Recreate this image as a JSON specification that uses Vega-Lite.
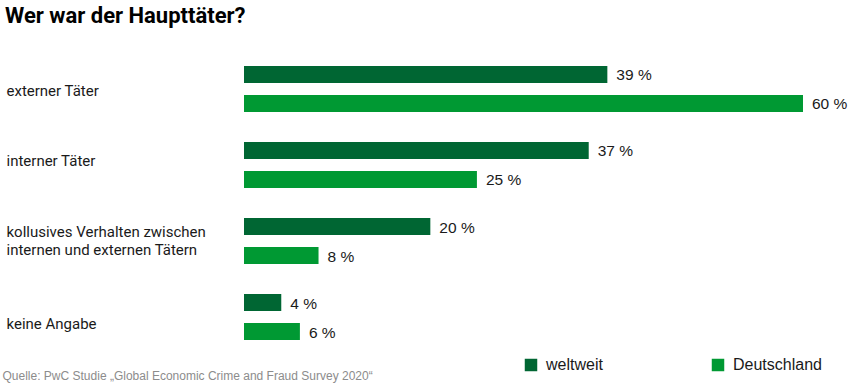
{
  "$schema": "https://vega.github.io/schema/vega-lite/v6.json",
  "autosize": {"type": "none"},
  "width": 559,
  "height": 304,
  "padding": {"left": 244, "top": 51, "right": 52, "bottom": 29},
  "background": "white",
  "title": {
    "text": "Wer war der Haupttäter?",
    "anchor": "start",
    "frame": "group",
    "dx": -239,
    "font": "Roboto",
    "fontSize": 22,
    "fontWeight": "bold",
    "color": "#000000",
    "baseline": "alphabetic",
    "offset": 6
  },
  "config": {"view": {"stroke": null}},
  "data": {
    "values": [
      {"cat": "externer Täter", "series": "weltweit", "value": 39, "label": "39 %"},
      {"cat": "externer Täter", "series": "Deutschland", "value": 60, "label": "60 %"},
      {"cat": "interner Täter", "series": "weltweit", "value": 37, "label": "37 %"},
      {"cat": "interner Täter", "series": "Deutschland", "value": 25, "label": "25 %"},
      {"cat": "kollusives Verhalten zwischen internen und externen Tätern", "series": "weltweit", "value": 20, "label": "20 %"},
      {"cat": "kollusives Verhalten zwischen internen und externen Tätern", "series": "Deutschland", "value": 8, "label": "8 %"},
      {"cat": "keine Angabe", "series": "weltweit", "value": 4, "label": "4 %"},
      {"cat": "keine Angabe", "series": "Deutschland", "value": 6, "label": "6 %"}
    ]
  },
  "encoding": {
    "y": {
      "field": "cat",
      "type": "nominal",
      "sort": ["externer Täter", "interner Täter", "kollusives Verhalten zwischen internen und externen Tätern", "keine Angabe"],
      "scale": {"paddingInner": 0.237, "paddingOuter": 0.118},
      "axis": {
        "title": null,
        "domain": false,
        "ticks": false,
        "labelAlign": "left",
        "labelBaseline": "middle",
        "labelPadding": 238,
        "labelFont": "Roboto",
        "labelFontSize": 15,
        "labelColor": "#1a1a1a",
        "labelLimit": 0,
        "labelLineHeight": 18,
        "labelOffset": {
          "condition": [
            {"test": "datum.value == 'externer Täter'", "value": 2},
            {"test": "datum.value == 'interner Täter'", "value": -4},
            {"test": "datum.value == 'keine Angabe'", "value": 7}
          ],
          "value": -9
        },
        "labelExpr": "datum.value == 'kollusives Verhalten zwischen internen und externen Tätern' ? ['kollusives Verhalten zwischen', 'internen und externen Tätern'] : datum.label"
      }
    },
    "yOffset": {
      "field": "series",
      "type": "nominal",
      "sort": ["weltweit", "Deutschland"],
      "scale": {"paddingInner": 0.41, "paddingOuter": 0.205}
    },
    "x": {
      "field": "value",
      "type": "quantitative",
      "scale": {"domain": [0, 60]},
      "axis": {
        "domain": false,
        "ticks": false,
        "labels": false,
        "grid": false,
        "title": "Quelle: PwC Studie „Global Economic Crime and Fraud Survey 2020“",
        "titleFont": "Liberation Sans",
        "titleFontSize": 12,
        "titleFontWeight": "normal",
        "titleColor": "#8c8c8c",
        "titleAlign": "left",
        "titleBaseline": "alphabetic",
        "titleX": -242,
        "titleY": 24
      }
    }
  },
  "layer": [
    {
      "mark": {"type": "bar"},
      "encoding": {
        "color": {
          "field": "series",
          "type": "nominal",
          "scale": {"domain": ["weltweit", "Deutschland"], "range": ["#006633", "#009933"]},
          "legend": {
            "orient": "none",
            "legendX": 279,
            "legendY": 306,
            "direction": "horizontal",
            "title": null,
            "symbolType": "square",
            "symbolSize": 156,
            "symbolStrokeWidth": 0,
            "symbolOpacity": 1,
            "labelFont": "Liberation Sans",
            "labelFontSize": 16,
            "labelColor": "#1a1a1a",
            "labelOffset": 7,
            "columnPadding": 107
          }
        }
      }
    },
    {
      "mark": {"type": "text", "align": "left", "baseline": "middle", "dx": 9, "dy": 1, "font": "Liberation Sans", "fontSize": 15.5, "color": "#1a1a1a"},
      "encoding": {"text": {"field": "label", "type": "nominal"}}
    }
  ]
}
